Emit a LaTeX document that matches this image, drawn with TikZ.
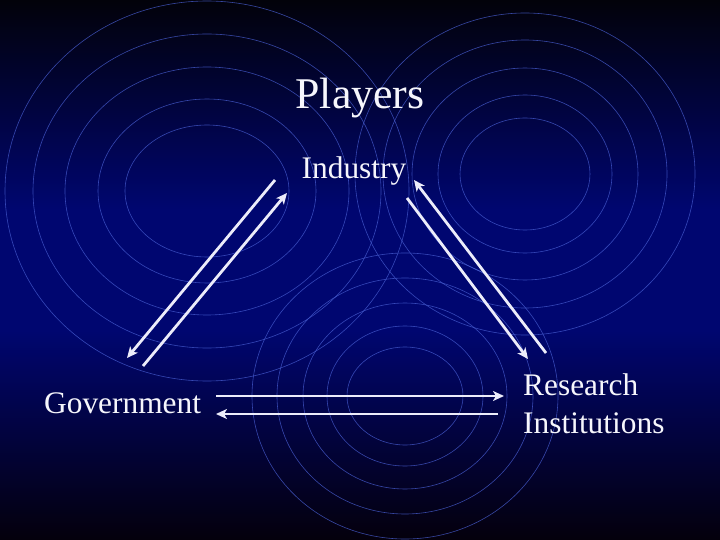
\documentclass[tikz,border=0pt]{standalone}
\usepackage{fontspec}
\setmainfont{Liberation Serif}
\usetikzlibrary{arrows.meta}
\definecolor{navyc}{RGB}{0,6,112}
\definecolor{topc}{RGB}{2,2,10}
\definecolor{botc}{RGB}{4,0,12}
\definecolor{ringc}{RGB}{72,94,210}
\definecolor{txtc}{RGB}{246,246,252}
\definecolor{arrc}{RGB}{236,236,250}
\tikzset{
  ring/.style={draw=ringc, line width=0.6pt, opacity=0.75},
  lbl/.style={text=txtc, inner sep=0pt, font=\fontsize{31.5}{38}\selectfont},
  flow/.style={draw=arrc, line width=2.8pt, -{Stealth[length=11bp,width=10bp,inset=3bp]}}
}
\begin{document}
\begin{tikzpicture}[x=1bp,y=-1bp]
\useasboundingbox (0,0) rectangle (720,540);
\shade[top color=topc,bottom color=navyc] (0,0) rectangle (720,210);
\fill[navyc] (0,209.5) rectangle (720,330.5);
\shade[top color=navyc,bottom color=botc] (0,330) rectangle (720,540);
\begin{scope}
\clip (0,0) rectangle (720,540);
\foreach \a/\b in {82/66,109/92,142/124,174/157,202/190}
  \draw[ring] (207,191) ellipse [x radius=\a, y radius=\b];
\foreach \a/\b in {65/56,87/79,113/106,142/134,170/161}
  \draw[ring] (525,174) ellipse [x radius=\a, y radius=\b];
\foreach \a/\b in {58/49,78/70,102/93,128/118,153/143}
  \draw[ring] (405,396) ellipse [x radius=\a, y radius=\b];
\end{scope}

\node[lbl, anchor=base, font=\fontsize{44}{50}\selectfont] (title) at (360,109) {Players};
\node[lbl, anchor=base] (ind) at (354,179) {Industry};
\node[lbl, anchor=base west] (gov) at (44,413) {Government};
\node[lbl, anchor=north west, align=left] (res) at (523,373.5) {Research\\Institutions};

\coordinate (l1s) at (275,180); \coordinate (l1e) at (127,358);
\coordinate (l2s) at (143,366); \coordinate (l2e) at (287,193);
\coordinate (r1s) at (546,353); \coordinate (r1e) at (414,180);
\coordinate (r2s) at (407,198); \coordinate (r2e) at (528,359);
\coordinate (b1s) at (216,396); \coordinate (b1e) at (504,396);
\coordinate (b2s) at (498,414); \coordinate (b2e) at (216,414);

\draw[flow] (l1s) -- (l1e);
\draw[flow] (l2s) -- (l2e);
\draw[flow] (r1s) -- (r1e);
\draw[flow] (r2s) -- (r2e);
\draw[flow] (b1s) -- (b1e);
\draw[flow] (b2s) -- (b2e);
\end{tikzpicture}
\end{document}
